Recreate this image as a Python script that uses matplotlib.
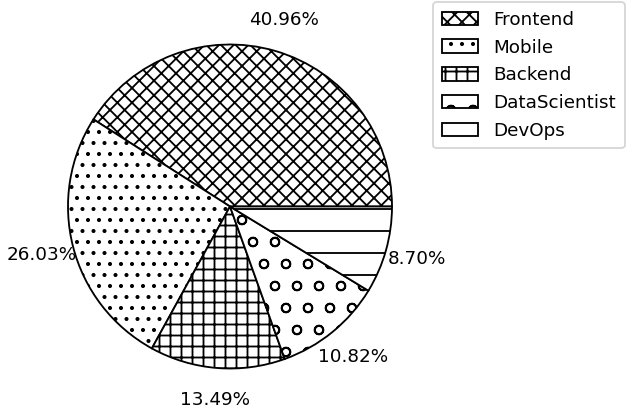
import matplotlib
matplotlib.use('Agg')
import matplotlib.pyplot as plt

roles = ['Frontend', 'Mobile', 'Backend', 'DataScientist', 'DevOps']
shares = [40.96, 26.03, 13.49, 10.82, 8.70]
hatches = ['xxx', '..', '++', 'o', '-']

dpi = 132
fig = plt.figure(figsize=(632 / dpi, 418 / dpi), dpi=dpi)

# pie centre at about (230, 206) px, radius 162 px
r_px = 162
half = 1.25 * r_px
cx, cy = 230, 418 - 206.5
ax = fig.add_axes([(cx - half) / 632, (cy - half) / 418, 2 * half / 632, 2 * half / 418])

wedges, texts, autotexts = ax.pie(shares, startangle=0, counterclock=True,
                                  autopct='%.2f%%', pctdistance=1.2,
                                  colors=['white'] * len(shares),
                                  wedgeprops=dict(edgecolor='black', linewidth=1))
for w, h in zip(wedges, hatches):
    w.set_hatch(h)

ax.set_xlim(-1.25, 1.25)
ax.set_ylim(-1.25, 1.25)
ax.set_aspect('equal')

fig.legend(wedges, roles, loc='upper left', bbox_to_anchor=(433 / 632, 1 - 2 / 418),
           borderaxespad=0, fontsize=10, labelspacing=0.53, borderpad=0.48,
           handleheight=0.75)

fig.savefig('out.png', dpi=dpi)
